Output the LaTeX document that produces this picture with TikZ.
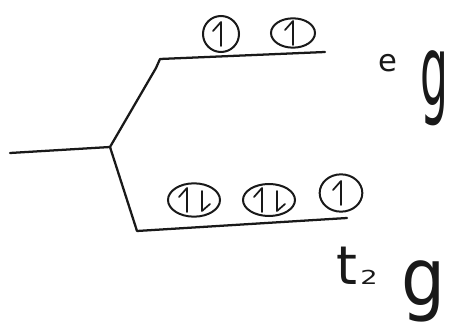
\documentclass[tikz,border=0pt]{standalone}
\usepackage{fontspec}
\setmainfont{DejaVu Sans}
\usetikzlibrary{shapes.geometric,calc}
\begin{document}
\begin{tikzpicture}[x=0.75pt,y=-0.75pt,
  ink/.style={line width=1.7pt,line cap=round,line join=round,black!90},
  orb/.style={ellipse,draw=black!90,line width=1.5pt,inner sep=0pt},
  spin/.style={ink,line width=1.3pt},
  lbl/.style={inner sep=0pt,text=black!90}]
\useasboundingbox (0,0) rectangle (451,328);
% energy levels
\coordinate (f0) at (10,153);
\coordinate (fc) at (110,147);
\coordinate (egK) at (156,68);
\coordinate (egL) at (160,59);
\coordinate (egR) at (325,52);
\coordinate (tL) at (137,231);
\coordinate (tR) at (347,218);
\draw[ink] (f0) -- (fc);
\draw[ink] (fc) -- (egK) -- (egL) -- (egR);
\draw[ink] (fc) -- (tL) -- (tR);
% orbitals (sizes in pt)
\node[orb,minimum width=27pt,minimum height=27pt] (e1) at (221,34) {};
\node[orb,minimum width=33pt,minimum height=22pt] (e2) at (293,33) {};
\node[orb,minimum width=39pt,minimum height=25pt] (t1) at (194,200) {};
\node[orb,minimum width=39pt,minimum height=24pt] (t2) at (269,200) {};
\node[orb,minimum width=32pt,minimum height=28pt] (t3) at (341,193) {};
% electron half-arrows
\newcommand{\spinup}[1]{\draw[spin] ($#1+(0,12)$) -- ($#1+(0,-12)$) -- ($#1+(-8,-3)$);}
\newcommand{\spindn}[1]{\draw[spin] ($#1+(0,-9)$) -- ($#1+(0,11)$) -- ($#1+(8,4)$);}
\spinup{(e1)}
\spinup{(e2)}
\spinup{(t1)+(-7,0)}\spindn{(t1)+(8,0)}
\spinup{(t2)+(-7,0)}\spindn{(t2)+(8,0)}
\spinup{(t3)}
% labels
\node[lbl,anchor=base west,font=\fontsize{23}{25}\selectfont] (eE) at (378,72) {e};
\node[lbl,anchor=base west,font=\fontsize{30}{32}\selectfont] (eG) at (420,106) {\scalebox{1.1}[2.45]{g}};
\node[lbl,anchor=base west,font=\fontsize{40}{42}\selectfont] (tT) at (336,285) {t};
\node[lbl,anchor=base west,font=\fontsize{17}{19}\selectfont] (tTwo) at (360,285) {\scalebox{1.2}[0.85]{2}};
\node[lbl,anchor=base west,font=\fontsize{40}{42}\selectfont] (tG) at (401,306) {\scalebox{1.3}[1.5]{g}};
\end{tikzpicture}
\end{document}
